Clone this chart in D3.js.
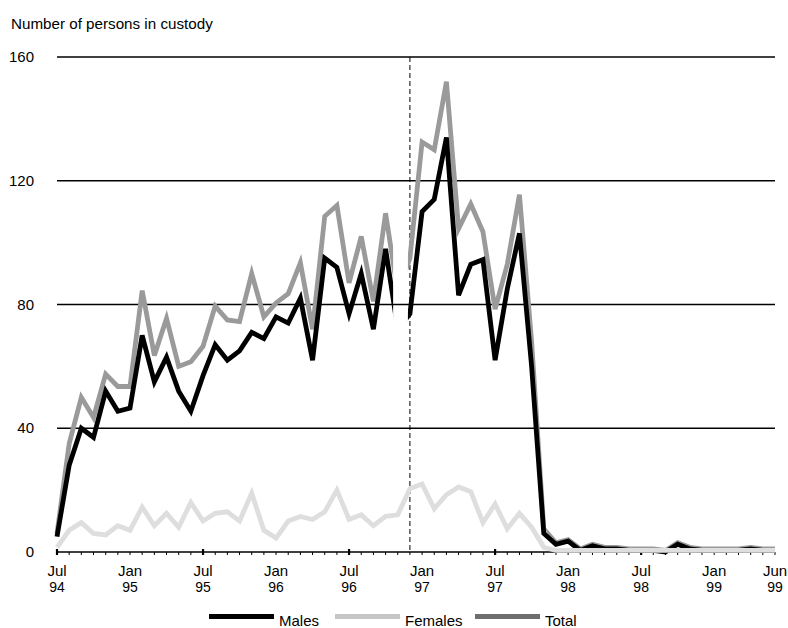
<!DOCTYPE html>
<html>
<head>
<meta charset="utf-8">
<script src="https://cdn.jsdelivr.net/npm/d3@7"></script>
<style>
  html, body { margin: 0; padding: 0; background: #fff; }
  svg { display: block; font-family: "Liberation Sans", Arial, sans-serif; }
</style>
</head>
<body>
<svg id="chart" width="788" height="628"></svg>
<script>
// Months: Jul 1994 .. Jun 1999 (60 months)
const months = d3.range(60).map(i => new Date(1994, 6 + i, 1));

const males = [5, 28, 40, 37, 52, 45.5, 46.5, 70, 55, 63, 52, 45.5,
  57, 67, 62, 65, 71, 69, 76, 74, 82, 62, 95, 92,
  77, 90, 72, 98, 72, 77, 110, 114, 134, 83, 93, 94.5,
  62, 85, 103, 60, 6, 2.5, 3.5, 0.5, 2, 1, 1, 0.5,
  0.5, 0.5, 0, 2.5, 1, 0.5, 0.5, 0.5, 0.5, 1, 0.5, 0.5];

const females = [1.5, 7, 9.5, 6, 5.5, 8.5, 7, 14.5, 8.5, 12.5, 8, 16,
  10, 12.5, 13, 10, 19, 7, 4.5, 10, 11.5, 10.5, 13, 20,
  10.5, 12, 8.5, 11.5, 12, 20.5, 22, 14, 18.5, 21, 19.5, 9.5,
  15.5, 7.5, 12.5, 8, 1.5, 0.5, 0.5, 0.5, 0.5, 0.5, 0.5, 0.5,
  0.5, 0.5, 0.5, 0.5, 0.5, 0.5, 0.5, 0.5, 0.5, 0.5, 0.5, 0.5];

const total = [6, 35, 50, 43.5, 57.5, 53.5, 53.5, 84.5, 63.5, 75.5, 60, 61.5,
  66.5, 79.5, 75, 74.5, 90, 76, 80.5, 83.5, 93.5, 72, 108.5, 112,
  87, 102, 81, 109.5, 84, 95, 132.5, 130, 152, 104.5, 112.5, 103.5,
  78.5, 93, 115.5, 68, 7.5, 3, 4, 1, 2.5, 1.5, 1.5, 1,
  1, 1, 0.5, 3, 1.5, 1, 1, 1, 1, 1.5, 1, 1];

const yTicks = [0, 40, 80, 120, 160];
const xLabelIdx = [0, 6, 12, 18, 24, 30, 36, 42, 48, 54, 59];
const xLabelTop = ["Jul", "Jan", "Jul", "Jan", "Jul", "Jan", "Jul", "Jan", "Jul", "Jan", "Jun"];
const xLabelBottom = ["94", "95", "95", "96", "96", "97", "97", "98", "98", "99", "99"];
const breakIdx = 29; // Dec 96 – change in series (dashed line)

const seriesNames = ["Males", "Females", "Total"];
const lineColors = { Males: "#000000", Females: "#dedede", Total: "#9a9a9a" };
const legendColors = { Males: "#000000", Females: "#c6c6c6", Total: "#6e6e6e" };

const svg = d3.select("#chart");
const x = d3.scaleLinear().domain([0, 59]).range([57, 775]);
const y = d3.scaleLinear().domain([0, 160]).range([552, 57]);
const step = x(1) - x(0);

// title
svg.append("text").attr("x", 11).attr("y", 29)
  .attr("font-size", 15.2).attr("fill", "#000")
  .text("Number of persons in custody");

// gridlines
svg.append("g").selectAll("line").data(yTicks.filter(d => d > 0)).join("line")
  .attr("x1", x(0)).attr("x2", x(59))
  .attr("y1", d => y(d)).attr("y2", d => y(d))
  .attr("stroke", "#000").attr("stroke-width", 1.4);

// y labels
svg.append("g").selectAll("text").data(yTicks).join("text")
  .attr("x", 34).attr("y", d => y(d) + 5)
  .attr("text-anchor", "end").attr("font-size", 15).attr("fill", "#000")
  .text(d => d);

// x axis
svg.append("line").attr("x1", x(0)).attr("x2", x(59))
  .attr("y1", y(0)).attr("y2", y(0))
  .attr("stroke", "#000").attr("stroke-width", 1.6);

svg.append("g").selectAll("line").data(months).join("line")
  .attr("x1", (d, i) => x(i)).attr("x2", (d, i) => x(i))
  .attr("y1", (d) => d.getMonth() === 6 ? y(0) - 3 : y(0))
  .attr("y2", y(0) + 3)
  .attr("stroke", "#000")
  .attr("stroke-width", (d) => d.getMonth() === 6 ? 2.2 : 1);

const xl = svg.append("g").selectAll("g").data(xLabelIdx).join("g")
  .attr("transform", d => `translate(${x(d)},0)`);
xl.append("text").attr("y", 576).attr("text-anchor", "middle")
  .attr("font-size", 15).attr("fill", "#000")
  .text((d, i) => xLabelTop[i]);
xl.append("text").attr("y", 592).attr("text-anchor", "middle")
  .attr("font-size", 14).attr("fill", "#000")
  .text((d, i) => xLabelBottom[i]);

// dashed break line
svg.append("line").attr("x1", x(breakIdx)).attr("x2", x(breakIdx))
  .attr("y1", y(160)).attr("y2", y(0))
  .attr("stroke", "#000").attr("stroke-width", 1)
  .attr("stroke-dasharray", "5,3");

// clip to leave the gap in Males/Total before the break
const defs = svg.append("defs");
const cp = defs.append("clipPath").attr("id", "gapclip");
cp.append("rect").attr("x", 0).attr("y", 0)
  .attr("width", x(breakIdx - 2) + 0.62 * step).attr("height", 628);
cp.append("rect").attr("x", x(breakIdx) - 2).attr("y", 0)
  .attr("width", 788 - x(breakIdx) + 2).attr("height", 628);

const line = d3.line().x((d, i) => x(i)).y(d => y(d));

svg.append("path").datum(total).attr("d", line)
  .attr("fill", "none").attr("stroke", lineColors.Total)
  .attr("stroke-width", 4.8).attr("stroke-linejoin", "miter")
  .attr("clip-path", "url(#gapclip)");
svg.append("path").datum(males).attr("d", line)
  .attr("fill", "none").attr("stroke", lineColors.Males)
  .attr("stroke-width", 4.8).attr("stroke-linejoin", "miter")
  .attr("clip-path", "url(#gapclip)");
svg.append("path").datum(females).attr("d", line)
  .attr("fill", "none").attr("stroke", lineColors.Females)
  .attr("stroke-width", 4.8).attr("stroke-linejoin", "miter");

// legend
const legendX = [209, 335, 475];
const lg = svg.append("g").selectAll("g").data(seriesNames).join("g")
  .attr("transform", (d, i) => `translate(${legendX[i]},616.5)`);
lg.append("line").attr("x1", 0).attr("x2", 65).attr("y1", 0).attr("y2", 0)
  .attr("stroke", d => legendColors[d]).attr("stroke-width", 5);
lg.append("text").attr("x", 70).attr("y", 9.5)
  .attr("font-size", 15).attr("fill", "#000").text(d => d);
</script>
</body>
</html>
